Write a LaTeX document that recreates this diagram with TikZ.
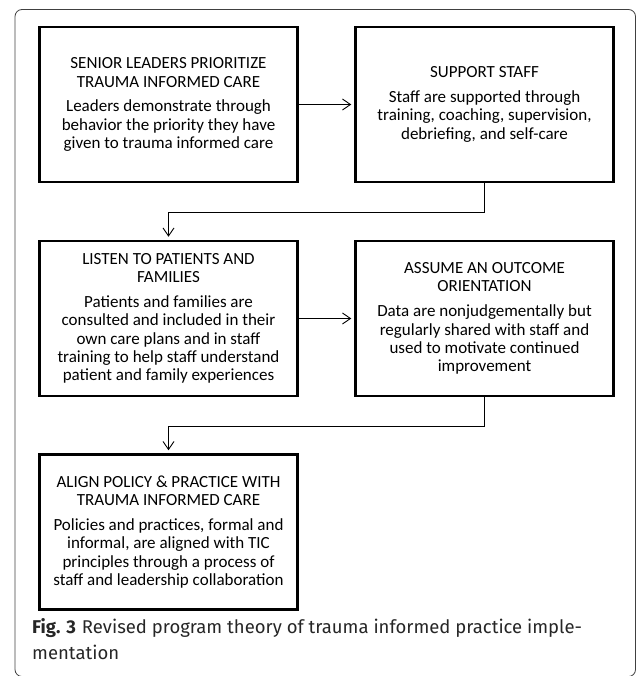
\documentclass[tikz,border=0pt]{standalone}
\usepackage{fontspec}
\setmainfont{Carlito}
\newfontfamily\capfont{Fira Sans}
\usetikzlibrary{arrows.meta}
\begin{document}
\begin{tikzpicture}[x=1pt,y=-1pt,
  box/.style={draw, line width=2.5pt, inner sep=0pt, minimum width=258pt, minimum height=155pt,
    align=center, font=\fontsize{17}{18.3}\selectfont},
  conn/.style={line width=0.9pt, -{Straight Barb[length=8pt,width=11pt,line width=0.9pt]}, shorten >=3pt},
  captext/.style={anchor=base west, inner sep=0pt, text=black!85, font=\capfont\fontsize{18.5}{22}\selectfont}
]
\useasboundingbox (0,0) rectangle (636,676);
\draw[black!75, line width=0.8pt, rounded corners=7pt] (15,9.5) rectangle (635.5,676.5);

\node[box] (b1) at (168.5,104.5) {SENIOR LEADERS PRIORITIZE\\TRAUMA INFORMED CARE\\[6.5pt]Leaders demonstrate through\\behavior the priority they have\\given to trauma informed care};
\node[box] (b2) at (484.5,104.5) {SUPPORT STAFF\\[6.5pt]Staff are supported through\\training, coaching, supervision,\\debriefing, and self-care};
\node[box] (b3) at (168.5,318.5) {LISTEN TO PATIENTS AND\\FAMILIES\\[6.5pt]Patients and families are\\consulted and included in their\\own care plans and in staff\\training to help staff understand\\patient and family experiences};
\node[box] (b4) at (484.5,318.5) {ASSUME AN OUTCOME\\ORIENTATION\\[6.5pt]Data are nonjudgementally but\\regularly shared with staff and\\used to motivate continued\\improvement};
\node[box] (b5) at (168.5,532) {ALIGN POLICY \& PRACTICE WITH\\TRAUMA INFORMED CARE\\[6.5pt]Policies and practices, formal and\\informal, are aligned with TIC\\principles through a process of\\staff and leadership collaboration};

\draw[conn] (b1) -- (b2);
\draw[conn] (b3) -- (b4);
\draw[conn] (b2.south) -- ++(0,29) -| (b3.north);
\draw[conn] (b4.south) -- ++(0,29) -| (b5.north);

\node[captext] (cap1) at (32,633) {\textbf{Fig. 3}\hspace{6pt}Revised program theory of trauma informed practice imple-};
\node[captext] (cap2) at (32,659) {mentation};
\end{tikzpicture}
\end{document}
